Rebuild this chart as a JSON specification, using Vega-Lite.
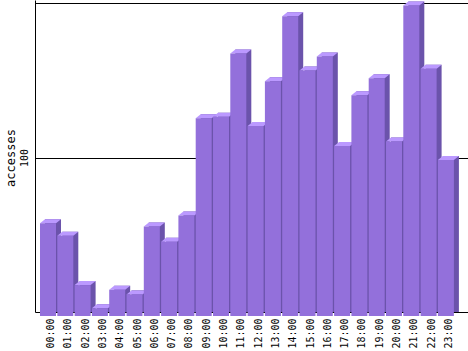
{
  "$schema": "https://vega.github.io/schema/vega-lite/v6.json",
  "width": 433,
  "height": 312,
  "autosize": {"type": "none"},
  "padding": {"left": 35, "top": 0, "right": 0, "bottom": 39},
  "background": "white",
  "config": {"view": {"stroke": null}, "font": "DejaVu Sans Mono"},
  "data": {
    "values": [
      {"hour": "00:00", "accesses": 60},
      {"hour": "01:00", "accesses": 52},
      {"hour": "02:00", "accesses": 20},
      {"hour": "03:00", "accesses": 5},
      {"hour": "04:00", "accesses": 17},
      {"hour": "05:00", "accesses": 14},
      {"hour": "06:00", "accesses": 58},
      {"hour": "07:00", "accesses": 48},
      {"hour": "08:00", "accesses": 65},
      {"hour": "09:00", "accesses": 128},
      {"hour": "10:00", "accesses": 129},
      {"hour": "11:00", "accesses": 170},
      {"hour": "12:00", "accesses": 123},
      {"hour": "13:00", "accesses": 152},
      {"hour": "14:00", "accesses": 194},
      {"hour": "15:00", "accesses": 159},
      {"hour": "16:00", "accesses": 168},
      {"hour": "17:00", "accesses": 110},
      {"hour": "18:00", "accesses": 143},
      {"hour": "19:00", "accesses": 154},
      {"hour": "20:00", "accesses": 113},
      {"hour": "21:00", "accesses": 201},
      {"hour": "22:00", "accesses": 160},
      {"hour": "23:00", "accesses": 101}
    ]
  },
  "encoding": {
    "x": {
      "field": "hour",
      "type": "ordinal",
      "sort": null,
      "scale": {"paddingInner": 0.0751, "paddingOuter": 0.552, "align": 0.262},
      "axis": {
        "title": null,
        "labelAngle": -90,
        "labelAlign": "right",
        "labelBaseline": "middle",
        "labelPadding": 6,
        "ticks": false,
        "tickSize": 0,
        "labelOffset": 3,
        "labelFontSize": 10,
        "labelFont": "DejaVu Sans Mono",
        "labelColor": "black",
        "domainColor": "black",
        "grid": false,
        "labelOverlap": false
      }
    },
    "y": {
      "field": "accesses",
      "type": "quantitative",
      "scale": {"domain": [0, 202], "nice": false},
      "axis": {
        "title": "accesses",
        "values": [100, 200],
        "labelExpr": "datum.value == 100 ? '100' : ''",
        "grid": true,
        "gridColor": "black",
        "gridOpacity": 1,
        "ticks": false,
        "tickSize": 0,
        "domainColor": "black",
        "labelAngle": -90,
        "labelAlign": "center",
        "labelBaseline": "alphabetic",
        "labelPadding": 7.5,
        "labelFontSize": 10,
        "labelFont": "DejaVu Sans Mono",
        "labelColor": "black",
        "labelFlush": false,
        "labelOverlap": false,
        "titleFont": "DejaVu Sans Mono",
        "titleFontSize": 12,
        "titleFontWeight": "normal",
        "titleColor": "black",
        "titleAngle": -90,
        "titleBaseline": "alphabetic",
        "titleAlign": "center",
        "titleX": -21,
        "titleY": 157.5
      }
    }
  },
  "layer": [
    {"mark": {"type": "bar", "color": "#6B53AB", "xOffset": 5}},
    {"mark": {"type": "point", "shape": "M-0.4,0.2L0.4,0.2L0.65,0L-0.15,0Z", "size": 1600, "filled": true, "color": "#BB99FF", "opacity": 1, "strokeWidth": 0}},
    {"mark": {"type": "bar", "color": "#9370DB", "yOffset": 4, "y2Offset": 4}}
  ]
}
